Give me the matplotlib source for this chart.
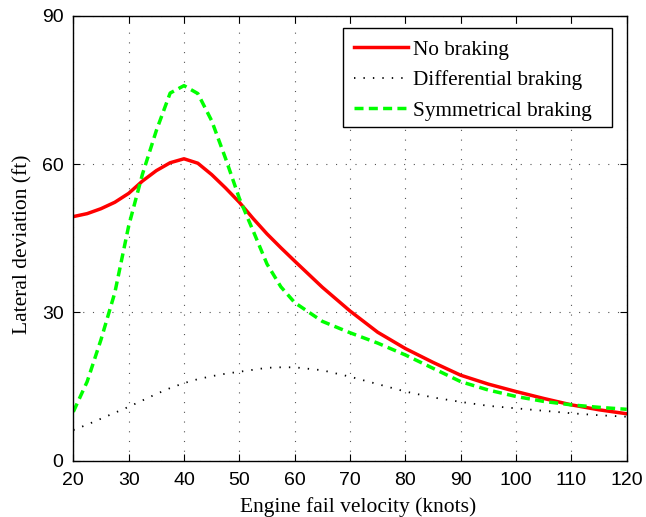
import matplotlib
matplotlib.use("Agg")
import matplotlib.pyplot as plt
from matplotlib.patches import Rectangle

plt.rcParams['lines.scale_dashes'] = False

# Engine fail velocity (knots)
velocity = [20, 22.5, 25, 27.5, 30, 32.5, 35, 37.5, 40, 42.5, 45, 47.5, 50,
            52.5, 55, 57.5, 60, 65, 70, 75, 80, 85, 90, 95, 100, 105, 110, 115, 120]

# Lateral deviation (ft) for each braking strategy
no_braking = [49.4, 50.0, 51.0, 52.3, 54.1, 56.6, 58.7, 60.3, 61.1, 60.2, 57.9, 55.2, 52.3,
              49.0, 45.9, 43.1, 40.4, 35.1, 30.3, 26.0, 22.7, 19.9, 17.3, 15.5, 14.0, 12.6,
              11.3, 10.3, 9.5]
differential_braking = [6.2, 7.3, 8.5, 9.7, 10.9, 12.2, 13.5, 14.7, 15.7, 16.5, 17.1, 17.6, 18.0,
                        18.4, 18.8, 18.9, 18.9, 18.3, 17.0, 15.5, 14.0, 12.8, 11.9, 11.1, 10.6,
                        10.1, 9.6, 9.2, 8.9]
symmetrical_braking = [9.9, 16.0, 24.5, 34.0, 47.5, 58.0, 66.8, 74.4, 75.9, 74.3, 68.8, 61.2, 53.1,
                       46.5, 39.8, 35.2, 32.0, 28.2, 25.9, 23.8, 21.4, 18.7, 16.0, 14.3, 13.0,
                       12.0, 11.3, 10.8, 10.4]

x_ticks = [20, 30, 40, 50, 60, 70, 80, 90, 100, 110, 120]
y_ticks = [0, 30, 60, 90]

fig = plt.figure(figsize=(6.46, 5.17), dpi=100)
ax = fig.add_axes([0.1135, 0.1089, 0.8566, 0.8602])

ax.plot(velocity, no_braking, color='#ff0000', lw=2.5, label='No braking')
ax.plot(velocity, differential_braking, color='black', lw=1.3, dashes=(1.0, 5.8),
        label='Differential braking')
ax.plot(velocity, symmetrical_braking, color='#00ff00', lw=2.5, dashes=(6.5, 3.8),
        label='Symmetrical braking')

ax.set_xlim(20, 120)
ax.set_ylim(0, 90)
ax.set_xticks(x_ticks)
ax.set_yticks(y_ticks)

ax.grid(True, color='#555555', lw=0.8, dashes=(0.8, 6.2))
ax.tick_params(direction='in', length=5, width=0.8, top=True, right=True, labelsize=14)
ax.tick_params(axis='x', pad=8)
ax.tick_params(axis='y', pad=7)
for lab in ax.get_xticklabels() + ax.get_yticklabels():
    lab.set_family('Liberation Sans')
for sp in ax.spines.values():
    sp.set_linewidth(1.0)

serif = 'Liberation Serif'
ax.set_xlabel('Engine fail velocity (knots)', family=serif, fontsize=15.5)
ax.set_ylabel('Lateral deviation (ft)', family=serif, fontsize=15.5)
ax.xaxis.set_label_coords(0.515, -0.081)
ax.yaxis.set_label_coords(-0.074, 0.486)

# legend box with a wide right margin, drawn behind the legend entries
box_x0, box_y0, box_x1, box_y1 = 0.4868, 0.7497, 0.9729, 0.9723
ax.add_patch(Rectangle((box_x0, box_y0), box_x1 - box_x0, box_y1 - box_y0,
                       transform=ax.transAxes, facecolor='white', edgecolor='black',
                       lw=1.0, zorder=4))
leg = ax.legend(loc='upper left', bbox_to_anchor=(box_x0, box_y1), borderaxespad=0,
                prop={'family': serif, 'size': 15.3}, frameon=False,
                handlelength=2.5, handletextpad=0.27, labelspacing=0.5, borderpad=0.55)
leg.set_zorder(5)

fig.savefig('out.png', dpi=100)
